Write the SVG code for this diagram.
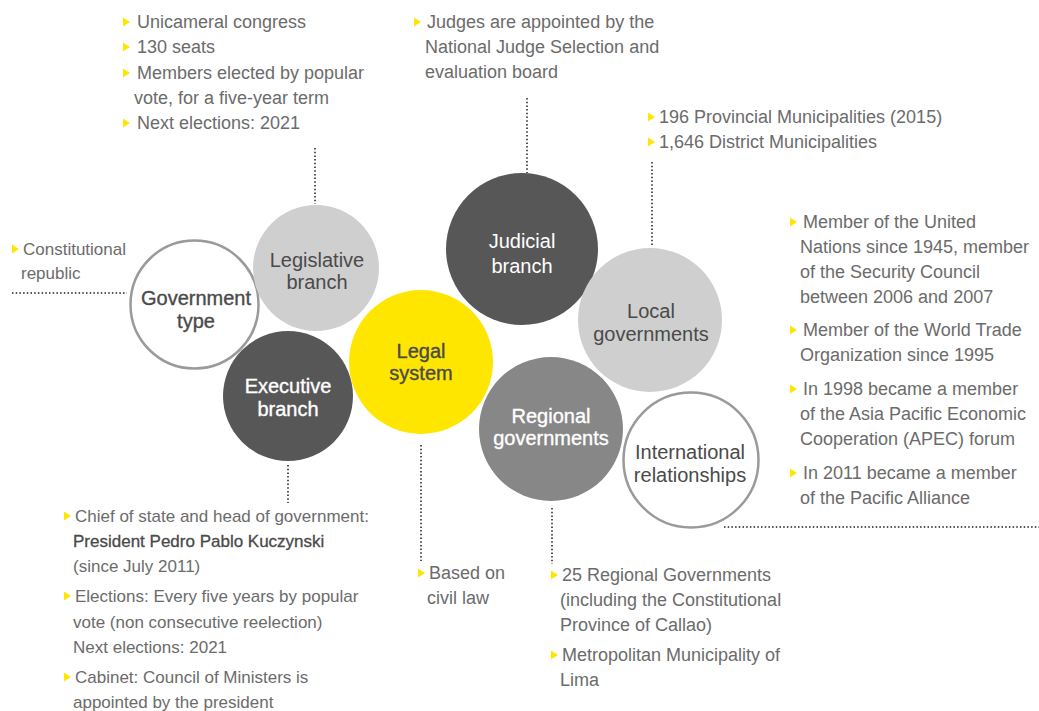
<svg xmlns="http://www.w3.org/2000/svg" width="1039" height="711" viewBox="0 0 1039 711">
<defs>
<style>
.t{font-family:"Liberation Sans",Arial,sans-serif;font-size:18px;fill:#6b6b6b}
.s{font-size:17px}
.b{fill:#4a4a4a;stroke:#4a4a4a;stroke-width:0.3px}
.c{font-family:"Liberation Sans",Arial,sans-serif;font-size:20px;text-anchor:middle}
.dk{fill:#4a4a4a}
.wh{fill:#ffffff}
.sb{stroke-width:0.35px}
.dk.sb{stroke:#4a4a4a}
.wh.sb{stroke:#ffffff}
.dot{stroke:#555;stroke-width:2;stroke-dasharray:1.5 2.2;fill:none}
.bul{fill:#ffe600}
</style>
<path id="tri" d="M0,-4.5 L7,0 L0,4.5 Z"/>
</defs>
<rect width="1039" height="711" fill="#ffffff"/>
<g id="connectors">
<line class="dot" x1="315" y1="148" x2="315" y2="204"/>
<line class="dot" x1="527" y1="98" x2="527" y2="173"/>
<line class="dot" x1="652" y1="162" x2="652" y2="247"/>
<line class="dot" x1="12" y1="293" x2="127" y2="293"/>
<line class="dot" x1="288" y1="465" x2="288" y2="503"/>
<line class="dot" x1="421" y1="445" x2="421" y2="561"/>
<line class="dot" x1="552" y1="508" x2="552" y2="564"/>
<line class="dot" x1="724" y1="527" x2="1039" y2="527"/>
</g>
<g id="government-type">
<circle cx="194.5" cy="304.5" r="64" fill="#ffffff" stroke="#9a9a9a" stroke-width="2.5"/>
<text class="c dk sb" x="196" y="305">Government</text>
<text class="c dk sb" x="196" y="328">type</text>
<use href="#tri" x="12" y="249" class="bul"/>
<text class="t s" x="23" y="255">Constitutional</text>
<text class="t s" x="21" y="279">republic</text>
</g>
<g id="legislative-branch">
<circle cx="316" cy="268" r="63" fill="#cfcfcf"/>
<text class="c dk" x="317" y="267">Legislative</text>
<text class="c dk" x="317" y="289">branch</text>
<use href="#tri" x="123" y="22" class="bul"/>
<text class="t" x="137" y="28">Unicameral congress</text>
<use href="#tri" x="123" y="47" class="bul"/>
<text class="t" x="137" y="53">130 seats</text>
<use href="#tri" x="123" y="73" class="bul"/>
<text class="t" x="137" y="79">Members elected by popular</text>
<text class="t" x="134" y="104">vote, for a five-year term</text>
<use href="#tri" x="123" y="123" class="bul"/>
<text class="t" x="137" y="129">Next elections: 2021</text>
</g>
<g id="executive-branch">
<circle cx="288" cy="396" r="65" fill="#575757"/>
<text class="c wh sb" x="288" y="393">Executive</text>
<text class="c wh sb" x="288" y="416">branch</text>
<use href="#tri" x="64" y="516" class="bul"/>
<text class="t s" x="75" y="522">Chief of state and head of government:</text>
<text class="t s b" x="73" y="547">President Pedro Pablo Kuczynski</text>
<text class="t s" x="73" y="572">(since July 2011)</text>
<use href="#tri" x="64" y="596" class="bul"/>
<text class="t s" x="75" y="602">Elections: Every five years by popular</text>
<text class="t s" x="73" y="628">vote (non consecutive reelection)</text>
<text class="t s" x="73" y="653">Next elections: 2021</text>
<use href="#tri" x="64" y="677" class="bul"/>
<text class="t s" x="75" y="683">Cabinet: Council of Ministers is</text>
<text class="t s" x="73" y="708">appointed by the president</text>
</g>
<g id="legal-system">
<circle cx="421" cy="362" r="72" fill="#ffe600"/>
<text class="c dk sb" x="421" y="358">Legal</text>
<text class="c dk sb" x="421" y="380">system</text>
<use href="#tri" x="418" y="573" class="bul"/>
<text class="t" x="429" y="579">Based on</text>
<text class="t" x="427" y="604">civil law</text>
</g>
<g id="judicial-branch">
<circle cx="522" cy="249" r="76" fill="#575757"/>
<text class="c wh" x="522" y="248">Judicial</text>
<text class="c wh" x="522" y="273">branch</text>
<use href="#tri" x="414" y="22" class="bul"/>
<text class="t" x="427" y="28">Judges are appointed by the</text>
<text class="t" x="425" y="53">National Judge Selection and</text>
<text class="t" x="425" y="78">evaluation board</text>
</g>
<g id="local-governments">
<circle cx="650" cy="320" r="72" fill="#cfcfcf"/>
<text class="c dk" x="651" y="318">Local</text>
<text class="c dk" x="651" y="341">governments</text>
<use href="#tri" x="648" y="117" class="bul"/>
<text class="t" x="659" y="123">196 Provincial Municipalities (2015)</text>
<use href="#tri" x="648" y="142" class="bul"/>
<text class="t" x="659" y="148">1,646 District Municipalities</text>
</g>
<g id="regional-governments">
<circle cx="551" cy="429" r="72" fill="#878787"/>
<text class="c wh sb" x="551" y="423">Regional</text>
<text class="c wh sb" x="551" y="445">governments</text>
<use href="#tri" x="551" y="575" class="bul"/>
<text class="t" x="562" y="581">25 Regional Governments</text>
<text class="t" x="560" y="606">(including the Constitutional</text>
<text class="t" x="560" y="631">Province of Callao)</text>
<use href="#tri" x="551" y="655" class="bul"/>
<text class="t" x="562" y="661">Metropolitan Municipality of</text>
<text class="t" x="560" y="686">Lima</text>
</g>
<g id="international-relationships">
<circle cx="691" cy="460" r="67.5" fill="#ffffff" stroke="#9a9a9a" stroke-width="2.5"/>
<text class="c dk" x="690" y="459">International</text>
<text class="c dk" x="690" y="482">relationships</text>
<use href="#tri" x="790" y="222" class="bul"/>
<text class="t" x="803" y="228">Member of the United</text>
<text class="t" x="800" y="253">Nations since 1945, member</text>
<text class="t" x="800" y="278">of the Security Council</text>
<text class="t" x="800" y="303">between 2006 and 2007</text>
<use href="#tri" x="790" y="330" class="bul"/>
<text class="t" x="803" y="336">Member of the World Trade</text>
<text class="t" x="800" y="361">Organization since 1995</text>
<use href="#tri" x="790" y="389" class="bul"/>
<text class="t" x="803" y="395">In 1998 became a member</text>
<text class="t" x="800" y="420">of the Asia Pacific Economic</text>
<text class="t" x="800" y="445">Cooperation (APEC) forum</text>
<use href="#tri" x="790" y="473" class="bul"/>
<text class="t" x="803" y="479">In 2011 became a member</text>
<text class="t" x="800" y="504">of the Pacific Alliance</text>
</g>
</svg>
